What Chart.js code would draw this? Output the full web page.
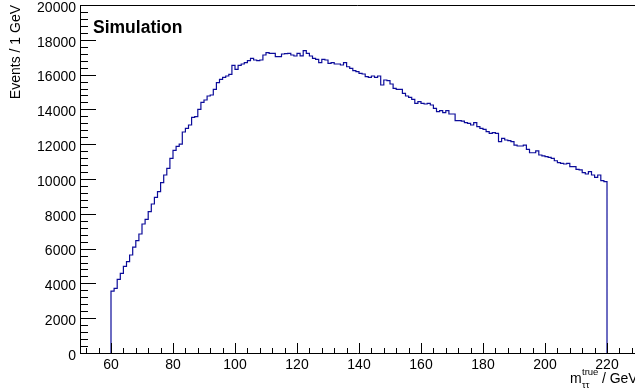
<!DOCTYPE html>
<html>
<head>
<meta charset="utf-8">
<script src="https://cdn.jsdelivr.net/npm/chart.js@4/dist/chart.umd.min.js"></script>
<style>
  html, body { margin: 0; padding: 0; background: #fff; }
  #wrap { width: 635px; height: 391px; position: relative; }
</style>
</head>
<body>
<div id="wrap"><canvas id="c" width="635" height="391"></canvas></div>
<script>
// ---- data ----
const binStart = 60;
const binWidth = 1;          // GeV
const counts = [
  3560, 3718, 4236, 4580, 4980, 5247, 5632, 6090, 6454, 6839,
  7414, 7684, 8130, 8563, 8948, 9270, 9787, 10230, 10615, 11189,
  11640, 11880, 12000, 12700, 12913, 13103, 13546, 13580, 14005, 14408,
  14540, 14770, 14828, 15155, 15535, 15730, 15845, 15920, 16017, 16534,
  16304, 16534, 16609, 16684, 16800, 16935, 16839, 16800, 16839, 17127,
  17261, 17223, 17223, 17032, 17032, 17184, 17200, 17223, 17127, 17070,
  17223, 17080, 17375, 17223, 17070, 16935, 16879, 16684, 16879, 16840,
  16648, 16684, 16609, 16609, 16551, 16684, 16450, 16362, 16224, 16166,
  16071, 16034, 15880, 15845, 15920, 15845, 15920, 15402, 15689, 15650,
  15460, 15212, 15155, 15155, 14924, 14770, 14693, 14580, 14350, 14443,
  14350, 14310, 14350, 14253, 14063, 13870, 13927, 13811, 13927, 13735,
  13735, 13350, 13350, 13330, 13235, 13200, 13103, 13235, 13010, 12913,
  12855, 12718, 12624, 12660, 12624, 12143, 12337, 12241, 12200, 12143,
  11950, 11896, 11896, 11950, 11700, 11510, 11510, 11620, 11379, 11330,
  11281, 11240, 11189, 11050, 10937, 10900, 10862, 10900, 10707, 10707,
  10557, 10520, 10362, 10287, 10419, 10230, 10097, 10230, 9902, 9845
];
const binEdges = counts.map((_, i) => binStart + i * binWidth);
const xTickLabels = [60, 80, 100, 120, 140, 160, 180, 200, 220];
const yTickLabels = [0, 2000, 4000, 6000, 8000, 10000, 12000, 14000, 16000, 18000, 20000];
const xRange = [50, 229.03];
const yRange = [0, 20000];
const yTitle = 'Events / 1 GeV';
const label = 'Simulation';

// histogram outline points (low edges, closed to zero at both ends)
const histPoints = [{ x: binEdges[0], y: 0 }]
  .concat(counts.map((c, i) => ({ x: binEdges[i], y: c })))
  .concat([{ x: binEdges[binEdges.length - 1] + binWidth, y: 0 }]);

const FONT = '"Liberation Sans", Arial, Helvetica, sans-serif';
Chart.defaults.font.family = FONT;

const rootDecor = {
  id: 'rootDecor',
  afterDraw(chart) {
    const { ctx, chartArea: a, scales: { x, y } } = chart;
    ctx.save();
    ctx.strokeStyle = '#000';
    ctx.lineWidth = 1;
    ctx.beginPath();
    // frame
    ctx.moveTo(a.left + 0.5, a.top + 0.5);
    ctx.lineTo(a.right, a.top + 0.5);
    ctx.moveTo(a.left + 0.5, a.top);
    ctx.lineTo(a.left + 0.5, a.bottom + 0.5);
    ctx.lineTo(a.right, a.bottom + 0.5);
    // x ticks (inward)
    for (let v = 52; v <= xRange[1]; v += 4) {
      const px = Math.round(x.getPixelForValue(v)) + 0.5;
      const len = (v % 20 === 0) ? 10 : 5;
      ctx.moveTo(px, a.bottom);
      ctx.lineTo(px, a.bottom - len);
    }
    // y ticks (inward)
    for (let v = 0; v <= yRange[1]; v += 400) {
      const py = Math.round(y.getPixelForValue(v)) + 0.5;
      const len = (v % 2000 === 0) ? 16 : 8;
      ctx.moveTo(a.left, py);
      ctx.lineTo(a.left + len, py);
    }
    ctx.stroke();

    // "Simulation"
    ctx.fillStyle = '#000';
    ctx.font = 'bold 17.5px ' + FONT;
    ctx.textAlign = 'left';
    ctx.textBaseline = 'alphabetic';
    ctx.fillText(label, 93, 33);

    // y title (rotated, aligned to top)
    ctx.save();
    ctx.translate(20, a.top);
    ctx.rotate(-Math.PI / 2);
    ctx.font = '14px ' + FONT;
    ctx.textAlign = 'right';
    ctx.textBaseline = 'alphabetic';
    ctx.fillText(yTitle, 0, 0);
    ctx.restore();

    // x title: m_{tautau}^{true} / GeV
    ctx.font = '14px ' + FONT;
    ctx.textAlign = 'left';
    ctx.fillText('m', 570, 383);
    ctx.font = '9.5px ' + FONT;
    ctx.fillText('true', 582, 375);
    ctx.fillText('\u03C4\u03C4', 582, 388);
    ctx.font = '14px ' + FONT;
    ctx.fillText(' / GeV', 598, 383);
    ctx.restore();
  }
};

new Chart(document.getElementById('c'), {
  type: 'line',
  data: {
    datasets: [{
      data: histPoints,
      stepped: 'before',
      borderColor: '#0c0c9a',
      borderWidth: 1.2,
      pointRadius: 0,
      fill: false,
      tension: 0
    }]
  },
  options: {
    responsive: false,
    animation: false,
    events: [],
    layout: { padding: { top: 5, left: 0, right: 0, bottom: 0 } },
    plugins: { legend: { display: false }, tooltip: { enabled: false } },
    scales: {
      x: {
        type: 'linear',
        min: xRange[0],
        max: xRange[1],
        grid: { display: false, drawTicks: false },
        border: { display: false },
        afterBuildTicks: (s) => { s.ticks = xTickLabels.map(v => ({ value: v })); },
        afterFit: (s) => { s.height = 38; s.paddingLeft = 0; s.paddingRight = 0; },
        ticks: {
          color: '#000',
          font: { size: 14 },
          padding: 4,
          maxRotation: 0,
          autoSkip: false,
          callback: (v) => String(v)
        }
      },
      y: {
        type: 'linear',
        min: yRange[0],
        max: yRange[1],
        grid: { display: false, drawTicks: false },
        border: { display: false },
        afterBuildTicks: (s) => { s.ticks = yTickLabels.map(v => ({ value: v })); },
        afterFit: (s) => { s.width = 80; s.paddingTop = 0; s.paddingBottom = 0; },
        ticks: {
          color: '#000',
          font: { size: 14 },
          padding: 4,
          labelOffset: 3,
          autoSkip: false,
          callback: (v) => String(v)
        }
      }
    }
  },
  plugins: [rootDecor]
});
</script>
</body>
</html>
